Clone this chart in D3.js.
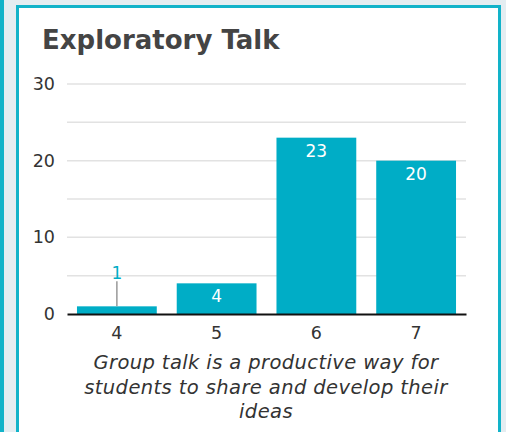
<!DOCTYPE html>
<html>
<head>
<meta charset="utf-8">
<script src="https://cdn.jsdelivr.net/npm/d3@7"></script>
<style>
  html, body { margin: 0; padding: 0; background: #e4edf1; }
  svg { display: block; }
</style>
</head>
<body>
<svg id="chart" width="506" height="432"></svg>
<script>
// Rating categories and response counts
const categories = ["4", "5", "6", "7"];
const counts = [1, 4, 23, 20];
const yTicks = [0, 10, 20, 30];
const gridValues = [5, 10, 15, 20, 25, 30];
const titleText = "Exploratory Talk";
const captionLines = [
  "Group talk is a productive way for",
  "students to share and develop their",
  "ideas"
];

const teal = "#00adc6";
const font = "DejaVu Sans, sans-serif";
const svg = d3.select("#chart");

// neighbouring card edge on the left
svg.append("rect").attr("x", 0).attr("y", 0).attr("width", 4).attr("height", 432).attr("fill", "#12b3c9");

// card
svg.append("rect")
  .attr("x", 17.5).attr("y", 6.5).attr("width", 482).attr("height", 440)
  .attr("fill", "#ffffff").attr("stroke", "#12b3c9").attr("stroke-width", 3);

svg.append("text")
  .attr("x", 42).attr("y", 49)
  .attr("font-family", font)
  .attr("font-weight", 700)
  .attr("font-size", 26)
  .attr("fill", "#444")
  .text(titleText);

const plotLeft = 67, plotRight = 466, plotTop = 84, plotBottom = 314;

const x = d3.scaleBand().domain(categories).range([plotLeft, plotRight]).paddingInner(0.2).paddingOuter(0.1);
const y = d3.scaleLinear().domain([0, 30]).range([plotBottom, plotTop]);

// gridlines
svg.append("g").selectAll("line").data(gridValues).join("line")
  .attr("x1", plotLeft).attr("x2", plotRight)
  .attr("y1", d => y(d)).attr("y2", d => y(d))
  .attr("stroke", "#e2e2e2").attr("stroke-width", 1.5);

// y axis labels
const yAxis = svg.append("g").attr("transform", `translate(${plotLeft},0)`)
  .call(d3.axisLeft(y).tickValues(yTicks).tickSize(0).tickPadding(12));
yAxis.select(".domain").remove();
yAxis.selectAll("text")
  .attr("font-family", font).attr("font-size", 17.5).attr("fill", "#333");

// bars
svg.append("g").selectAll("rect").data(counts).join("rect")
  .attr("x", (d, i) => x(categories[i]))
  .attr("width", x.bandwidth())
  .attr("y", d => y(d))
  .attr("height", d => plotBottom - y(d))
  .attr("fill", teal);

// x axis
const xAxis = svg.append("g").attr("transform", `translate(0,${plotBottom})`)
  .call(d3.axisBottom(x).tickSize(0).tickPadding(13).tickSizeOuter(0));
xAxis.select(".domain").attr("stroke", "#111").attr("stroke-width", 2);
xAxis.selectAll("text")
  .attr("font-family", font).attr("font-size", 17.5).attr("fill", "#333");

// value labels: inside tall bars, above with a leader line for small ones
const labels = svg.append("g");
counts.forEach((d, i) => {
  const cx = x(categories[i]) + x.bandwidth() / 2;
  const h = plotBottom - y(d);
  if (h >= 22) {
    labels.append("text")
      .attr("x", cx).attr("y", y(d) + 19)
      .attr("text-anchor", "middle")
      .attr("font-family", font).attr("font-size", 17)
      .attr("fill", "#ffffff").text(d);
  } else {
    labels.append("line")
      .attr("x1", cx).attr("x2", cx)
      .attr("y1", y(d)).attr("y2", y(d) - 25)
      .attr("stroke", "#999").attr("stroke-width", 1.5);
    labels.append("text")
      .attr("x", cx).attr("y", y(d) - 27)
      .attr("text-anchor", "middle")
      .attr("font-family", font).attr("font-size", 17)
      .attr("fill", teal).text(d);
  }
});

// caption under the axis
svg.append("text")
  .attr("x", 266).attr("y", 369)
  .attr("text-anchor", "middle")
  .attr("font-family", font).attr("font-style", "italic")
  .attr("font-size", 19.5).attr("letter-spacing", 0.4).attr("fill", "#333")
  .selectAll("tspan").data(captionLines).join("tspan")
  .attr("x", 266).attr("dy", (d, i) => i === 0 ? 0 : 24.5)
  .text(d => d);
</script>
</body>
</html>
